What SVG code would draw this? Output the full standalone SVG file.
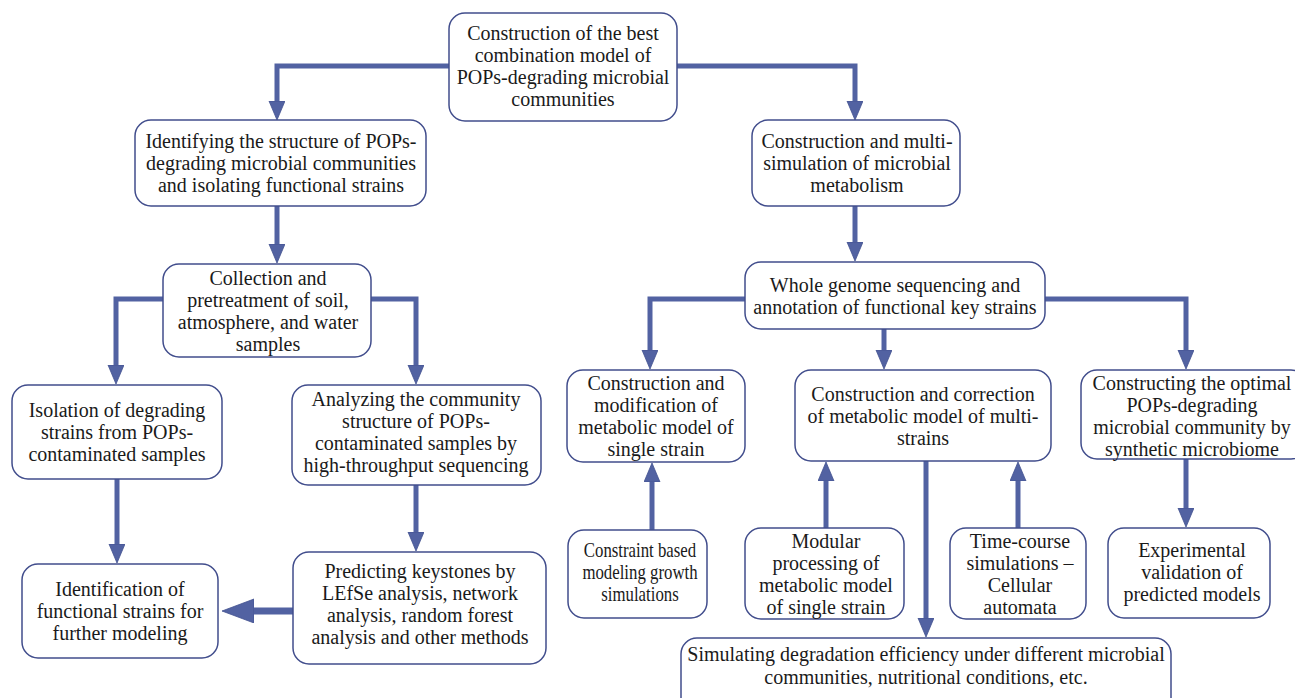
<svg xmlns="http://www.w3.org/2000/svg" width="1295" height="698" viewBox="0 0 1295 698">
<style>
.box{fill:#ffffff;stroke:#414d8c;stroke-width:1.5}
.t{font-family:"Liberation Serif","Times New Roman",serif;font-size:20px;fill:#1a1a1a;text-anchor:middle}
.c{fill:none;stroke:#5262a2;stroke-width:5}
.cb{fill:none;stroke:#5262a2;stroke-width:7}
</style>
<defs>
<marker id="ah" markerUnits="userSpaceOnUse" markerWidth="20" markerHeight="18" viewBox="0 0 20 18" refX="10" refY="8" orient="auto">
<path d="M0,0 L19,8 L0,16 z" fill="#5262a2" stroke="#42528f" stroke-width="0.8"/>
</marker>
<marker id="ahb" markerUnits="userSpaceOnUse" markerWidth="34" markerHeight="26" viewBox="0 0 34 26" refX="18" refY="12" orient="auto">
<path d="M0,0 L32,12 L0,24 z" fill="#5262a2" stroke="#42528f" stroke-width="0.8"/>
</marker>
</defs>
<rect width="1295" height="698" fill="#ffffff"/>
<g id="connectors">
<path class="c" d="M450,66 H277 V111" marker-end="url(#ah)"/>
<path class="c" d="M676,66 H855 V111" marker-end="url(#ah)"/>
<path class="c" d="M277,206 V254" marker-end="url(#ah)"/>
<path class="c" d="M855,206 V252" marker-end="url(#ah)"/>
<path class="c" d="M163,299 H116 V375" marker-end="url(#ah)"/>
<path class="c" d="M370,299 H416 V375" marker-end="url(#ah)"/>
<path class="c" d="M117,479 V554" marker-end="url(#ah)"/>
<path class="c" d="M416,485 V542" marker-end="url(#ah)"/>
<path class="cb" d="M293,611 H236" marker-end="url(#ahb)"/>
<path class="c" d="M746,299 H650 V360" marker-end="url(#ah)"/>
<path class="c" d="M884,329 V360" marker-end="url(#ah)"/>
<path class="c" d="M1045,299 H1186 V360" marker-end="url(#ah)"/>
<path class="c" d="M1186,459 V518" marker-end="url(#ah)"/>
<path class="c" d="M652,530 V472" marker-end="url(#ah)"/>
<path class="c" d="M826,528 V471" marker-end="url(#ah)"/>
<path class="c" d="M1018,528 V471" marker-end="url(#ah)"/>
<path class="c" d="M926,461 V628" marker-end="url(#ah)"/>
</g>
<g id="n1"><rect class="box" x="449" y="13" width="228" height="108" rx="16"/>
<text class="t" x="563" y="40">Construction of the best</text><text class="t" x="563" y="62">combination model of</text><text class="t" x="563" y="84">POPs-degrading microbial</text><text class="t" x="563" y="106">communities</text></g>
<g id="n2"><rect class="box" x="135" y="120" width="291" height="86" rx="16"/>
<text class="t" x="281" y="148">Identifying the structure of POPs-</text><text class="t" x="281" y="170">degrading microbial communities</text><text class="t" x="281" y="192">and isolating functional strains</text></g>
<g id="n3"><rect class="box" x="752" y="120" width="208" height="86" rx="16"/>
<text class="t" x="857" y="148">Construction and multi-</text><text class="t" x="857" y="170">simulation of microbial</text><text class="t" x="857" y="192">metabolism</text></g>
<g id="n4"><rect class="box" x="163" y="264" width="208" height="93" rx="16"/>
<text class="t" x="268" y="285">Collection and</text><text class="t" x="268" y="307">pretreatment of soil,</text><text class="t" x="268" y="329">atmosphere, and water</text><text class="t" x="268" y="351">samples</text></g>
<g id="n5"><rect class="box" x="745" y="262" width="300" height="67" rx="16"/>
<text class="t" x="895" y="292">Whole genome sequencing and</text><text class="t" x="895" y="314">annotation of functional key strains</text></g>
<g id="n6"><rect class="box" x="12" y="385" width="210" height="94" rx="16"/>
<text class="t" x="117" y="417">Isolation of degrading</text><text class="t" x="117" y="439">strains from POPs-</text><text class="t" x="117" y="461">contaminated samples</text></g>
<g id="n7"><rect class="box" x="292" y="385" width="249" height="100" rx="16"/>
<text class="t" x="416" y="406">Analyzing the community</text><text class="t" x="416" y="428">structure of POPs-</text><text class="t" x="416" y="450">contaminated samples by</text><text class="t" x="416" y="472">high-throughput sequencing</text></g>
<g id="n8"><rect class="box" x="567" y="370" width="178" height="92" rx="16"/>
<text class="t" x="656" y="390">Construction and</text><text class="t" x="656" y="412">modification of</text><text class="t" x="656" y="434">metabolic model of</text><text class="t" x="656" y="456">single strain</text></g>
<g id="n9"><rect class="box" x="795" y="370" width="256" height="91" rx="16"/>
<text class="t" x="923" y="401">Construction and correction</text><text class="t" x="923" y="423">of metabolic model of multi-</text><text class="t" x="923" y="445">strains</text></g>
<g id="n10"><rect class="box" x="1081" y="370" width="226" height="89" rx="16"/>
<text class="t" x="1192" y="390">Constructing the optimal</text><text class="t" x="1192" y="412">POPs-degrading</text><text class="t" x="1192" y="434">microbial community by</text><text class="t" x="1192" y="456">synthetic microbiome</text></g>
<g id="n11"><rect class="box" x="568" y="530" width="139" height="88" rx="16"/>
<g transform="translate(640,0) scale(0.84,1) translate(-640,0)"><text class="t" x="640" y="557">Constraint based</text><text class="t" x="640" y="579">modeling growth</text><text class="t" x="640" y="601">simulations</text></g></g>
<g id="n12"><rect class="box" x="745" y="528" width="159" height="91" rx="16"/>
<text class="t" x="826" y="548">Modular</text><text class="t" x="826" y="570">processing of</text><text class="t" x="826" y="592">metabolic model</text><text class="t" x="826" y="614">of single strain</text></g>
<g id="n13"><rect class="box" x="950" y="528" width="136" height="91" rx="16"/>
<text class="t" x="1020" y="548">Time-course</text><text class="t" x="1020" y="570">simulations –</text><text class="t" x="1020" y="592">Cellular</text><text class="t" x="1020" y="614">automata</text></g>
<g id="n14"><rect class="box" x="1108" y="528" width="162" height="90" rx="16"/>
<text class="t" x="1192" y="557">Experimental</text><text class="t" x="1192" y="579">validation of</text><text class="t" x="1192" y="601">predicted models</text></g>
<g id="n15"><rect class="box" x="22" y="564" width="196" height="94" rx="16"/>
<text class="t" x="120" y="596">Identification of</text><text class="t" x="120" y="618">functional strains for</text><text class="t" x="120" y="640">further modeling</text></g>
<g id="n16"><rect class="box" x="293" y="552" width="253" height="112" rx="16"/>
<text class="t" x="420" y="578">Predicting keystones by</text><text class="t" x="420" y="600">LEfSe analysis, network</text><text class="t" x="420" y="622">analysis, random forest</text><text class="t" x="420" y="644">analysis and other methods</text></g>
<g id="n17"><rect class="box" x="681" y="638" width="490" height="80" rx="16"/>
<text class="t" x="926" y="661">Simulating degradation efficiency under different microbial</text><text class="t" x="926" y="684">communities, nutritional conditions, etc.</text></g>
</svg>
